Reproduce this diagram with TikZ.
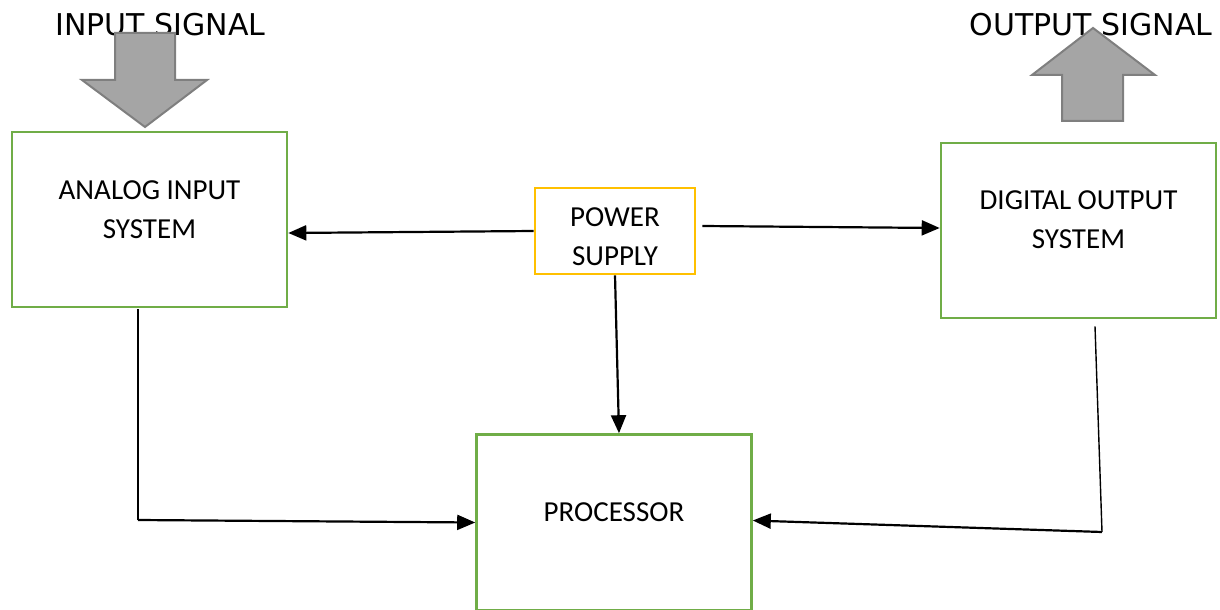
\documentclass[tikz,border=0pt]{standalone}
\usepackage{fontspec}
\setmainfont{Carlito}
\newfontfamily\verd{DejaVu Sans}
\usetikzlibrary{arrows.meta,calc}
\definecolor{boxgreen}{HTML}{70AD47}
\definecolor{boxyellow}{HTML}{FFC000}
\definecolor{arrfill}{HTML}{A5A5A5}
\definecolor{arrline}{HTML}{7F7F7F}
\tikzset{
  blk/.style={draw=boxgreen,line width=1.3pt,rectangle,inner sep=0pt,minimum width=137.5pt,minimum height=87.5pt},
  psbox/.style={draw=boxyellow,line width=1.3pt,rectangle,inner sep=0pt,minimum width=80pt,minimum height=43pt},
  lbl/.style={font=\fontsize{14.5}{19.5}\selectfont,align=center,inner sep=0pt},
  sig/.style={font=\verd\fontsize{15}{18}\selectfont,inner sep=0pt,anchor=base},
  conn/.style={line width=1.1pt,-{Triangle[length=9pt,width=7.5pt]}},
  thin/.style={line width=0.7pt},
  bigarrow/.style={fill=arrfill,draw=arrline,line width=1pt}
}
\begin{document}
\begin{tikzpicture}[x=0.5pt,y=-0.5pt]
\useasboundingbox (0,0) rectangle (1220,610);
% signal labels
\node[sig] (insig) at (160.5,36) {INPUT SIGNAL};
\node[sig] (outsig) at (1091,36) {OUTPUT SIGNAL};
% block arrows
\draw[bigarrow] (115,33) -- (175,33) -- (175,80) -- (207,80) -- (145,127) -- (82,80) -- (115,80) -- cycle;
\draw[bigarrow] (1093,28) -- (1155,75) -- (1123,75) -- (1123,121) -- (1062,121) -- (1062,75) -- (1032,75) -- cycle;
% boxes
\node[blk] (an) at (149.5,219.5) {};
\node[lbl] (antext) at (149.5,209.5) {ANALOG INPUT\\SYSTEM};
\node[psbox] (ps) at (615,231) {};
\node[lbl] (pstext) at (615,237) {POWER\\SUPPLY};
\node[blk] (dig) at (1078.5,230.5) {};
\node[lbl] (digtext) at (1078.5,219.5) {DIGITAL OUTPUT\\SYSTEM};
\node[blk,minimum height=88pt] (proc) at (614,522.5) {};
\node[lbl] (proctext) at (614,512) {PROCESSOR};
% connectors from power supply
\draw[conn] (ps.west) -- ($(an.east)+(0,13.5)$);
\draw[conn] ($(ps.east)+(6,-5)$) -- ($(dig.west)+(0,-2.5)$);
\draw[conn] (ps.south) -- ($(proc.north)+(5,0)$);
% analog to processor
\coordinate (a1) at ($(an.south)+(-11.5,1)$);
\coordinate (a2) at (138,520);
\draw[thin] (a1) -- (a2);
\draw[conn] (a2) -- ($(proc.west)+(0,0)$);
% digital to processor
\coordinate (d1) at ($(dig.south)+(16.5,7)$);
\coordinate (d2) at (1102,532);
\draw[thin] (d1) -- (d2);
\draw[conn] (d2) -- ($(proc.east)+(0,-2)$);
\end{tikzpicture}
\end{document}
